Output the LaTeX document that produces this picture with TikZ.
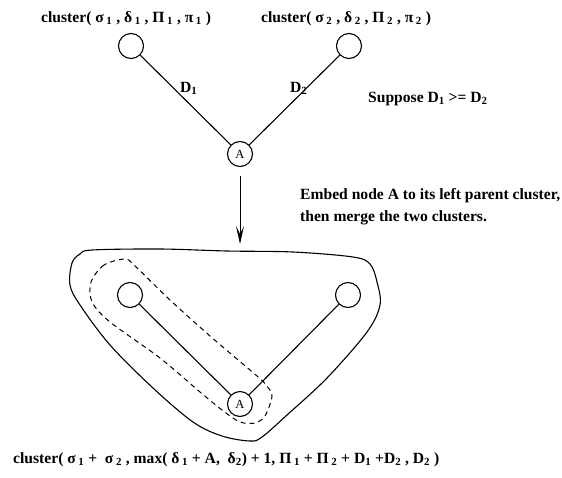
\documentclass[tikz,border=0pt]{standalone}
\usepackage{fontspec}
\setmainfont{Liberation Serif}
\usetikzlibrary{arrows.meta}
\newcommand\sbs[1]{\,\textsubscript{#1}}
\begin{document}
\begin{tikzpicture}[x=1pt,y=-1pt,
  vtx/.style={circle,draw,line width=1.1pt,minimum size=25pt,inner sep=0pt},
  anode/.style={circle,draw,line width=1.1pt,minimum size=25pt,inner sep=0pt,font=\fontsize{12.5}{14}\selectfont},
  edge/.style={line width=1.1pt},
  lbl/.style={anchor=base west,inner sep=0pt,font=\fontsize{15.6}{18}\selectfont\bfseries},
  grp/.style={line width=1pt,dash pattern=on 5pt off 4pt}]
\useasboundingbox (0,0) rectangle (562,477);
% top part
\node[vtx] (L1) at (131,46) {};
\node[vtx] (R1) at (349,46) {};
\node[anode] (A1) at (240,154) {A};
\draw[edge] (L1) -- (A1);
\draw[edge] (R1) -- (A1);
\node[lbl] (c1) at (41,22) {cluster( σ\sbs1 , δ\sbs1 , Π\sbs1 , π\sbs1 )};
\node[lbl] (c2) at (261,22) {cluster( σ\sbs2 , δ\sbs2 , Π\sbs2 , π\sbs2 )};
\node[lbl] (d1) at (180,92) {D\textsubscript{1}};
\node[lbl] (d2) at (290,92) {D\textsubscript{2}};
\node[lbl] (sup) at (368,102) {Suppose D\textsubscript{1} >= D\textsubscript{2}};
% arrow
\coordinate (as) at (240,176);
\coordinate (ae) at (240,244);
\draw[line width=1pt,-{Stealth[length=18pt,width=8pt,inset=8pt]}] (as) -- (ae);
\node[lbl] (emb1) at (300,199) {Embed node A to its left parent cluster,};
\node[lbl] (emb2) at (300,221) {then merge the two clusters.};
% bottom part
\draw[edge] plot[smooth cycle,tension=0.55] coordinates {(92,250) (160,249) (227,251) (293,252) (353,257) (370,264) (377,282) (380,305) (367,332) (327,378) (287,415) (262,437) (250,441) (222,436) (193,422) (153,388) (110,345) (80,305) (70,285) (72,263) (80,254)};
\draw[grp] plot[smooth cycle,tension=0.5] coordinates {(125,259) (104,265) (91,282) (92,302) (110,322) (160,358) (200,392) (222,410) (240,422) (255,423) (265,416) (272,396) (266,385) (257,376) (210,336) (170,300) (135,266)};
\node[vtx] (L2) at (130,295) {};
\node[vtx] (R2) at (348,295) {};
\node[anode] (A2) at (240,404) {A};
\draw[edge] (L2) -- (A2);
\draw[edge] (R2) -- (A2);
\node[lbl] (c3) at (13,463) {cluster( σ\sbs1 +~ σ\sbs2 , max( δ\sbs1 + A,~ δ\textsubscript{2}) + 1, Π\sbs1 + Π\sbs2 + D\textsubscript{1} +D\textsubscript{2} , D\textsubscript{2} )};
\end{tikzpicture}
\end{document}
